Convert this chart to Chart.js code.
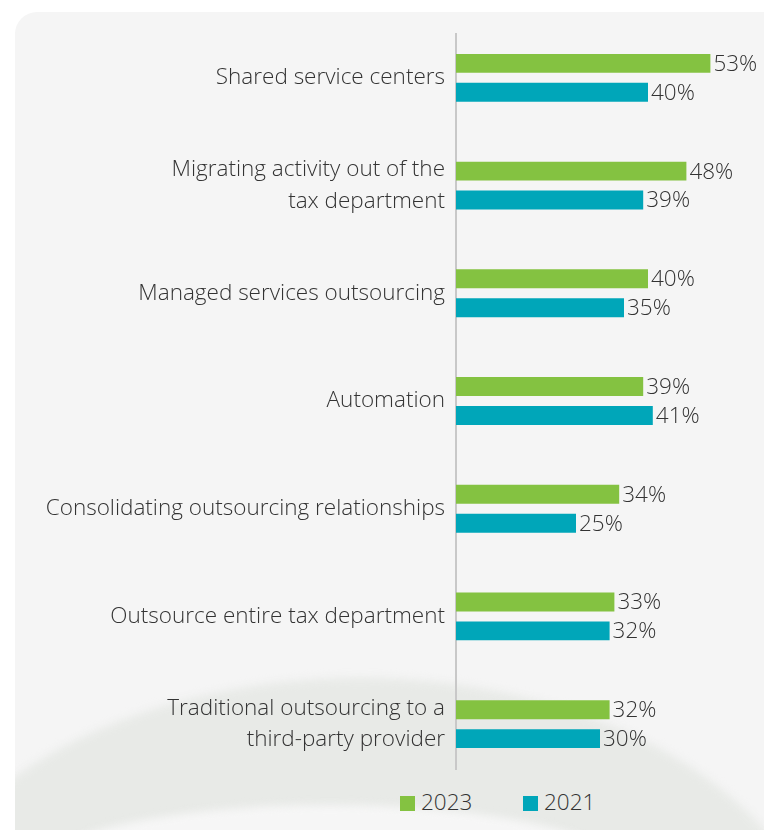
<!DOCTYPE html>
<html>
<head>
<meta charset="utf-8">
<script src="https://cdn.jsdelivr.net/npm/chart.js@4"></script>
<style>
  html, body { margin: 0; padding: 0; background: #ffffff; }
  body { width: 764px; height: 830px; position: relative; overflow: hidden; font-family: "Open Sans", sans-serif; }
  #panel { position: absolute; left: 15px; top: 12px; width: 760px; height: 840px; background: #f5f5f5; border-top-left-radius: 22px; overflow: hidden; }
  #band { position: absolute; left: -120px; top: 666px; width: 930px; height: 600px; border-radius: 50%; background: #e8eae7; filter: blur(4px); }
  #hole { position: absolute; left: 15px; top: 793px; width: 600px; height: 140px; border-radius: 50%; background: #f6f6f6; filter: blur(4px); }
  #wrap { position: absolute; left: 15px; top: 12px; width: 749px; height: 768px; }
  #legend { position: absolute; top: 786px; left: 400px; font-size: 22.5px; color: #333; font-weight: 300; white-space: nowrap; }
  #legend span.item { display: inline-block; }
  #legend i { display: inline-block; width: 15px; height: 15px; margin-right: 6px; vertical-align: -1px; }
</style>
</head>
<body>
<div id="panel"><div id="band"></div><div id="hole"></div></div>
<div id="wrap"><canvas id="chart"></canvas></div>
<div id="legend">
  <span class="item" style="width:123px"><i style="background:#84c241"></i>2023</span><span class="item"><i style="background:#00a6b9"></i>2021</span>
</div>
<script>
let categories = [
  "Shared service centers",
  ["Migrating activity out of the", "tax department"],
  "Managed services outsourcing",
  "Automation",
  "Consolidating outsourcing relationships",
  "Outsource entire tax department",
  ["Traditional outsourcing to a", "third-party provider"]
];
let values2023 = [53, 48, 40, 39, 34, 33, 32];
let values2021 = [40, 39, 35, 41, 25, 32, 30];

let green = "#84c241";
let teal = "#00a6b9";
let textColor = "#333333";

// value labels right after each bar
let valueLabels = {
  id: "valueLabels",
  afterDatasetsDraw(chart) {
    let ctx = chart.ctx;
    ctx.save();
    ctx.font = "300 22.5px 'Open Sans'";
    ctx.fillStyle = textColor;
    ctx.textBaseline = "middle";
    ctx.textAlign = "left";
    chart.data.datasets.forEach((ds, i) => {
      chart.getDatasetMeta(i).data.forEach((bar, j) => {
        ctx.fillText(ds.data[j] + "%", bar.x + 3, bar.y + 1);
      });
    });
    ctx.restore();
  }
};

// short vertical axis line
let axisLine = {
  id: "axisLine",
  beforeDatasetsDraw(chart) {
    let ctx = chart.ctx;
    let x = chart.chartArea.left;
    ctx.save();
    ctx.strokeStyle = "#c8c8c8";
    ctx.lineWidth = 2;
    ctx.beginPath();
    ctx.moveTo(x, 21);
    ctx.lineTo(x, 758);
    ctx.stroke();
    ctx.restore();
  }
};

let chartContext = document.getElementById("chart").getContext("2d");
let chart = new Chart(chartContext, {
  type: "bar",
  data: {
    labels: categories,
    datasets: [{
      label: "2023",
      data: values2023,
      backgroundColor: green,
      categoryPercentage: 0.537,
      barPercentage: 0.655
    }, {
      label: "2021",
      data: values2021,
      backgroundColor: teal,
      categoryPercentage: 0.537,
      barPercentage: 0.655
    }]
  },
  options: {
    indexAxis: "y",
    responsive: true,
    maintainAspectRatio: false,
    animation: false,
    layout: { padding: { top: 12, bottom: 2, right: 20, left: 0 } },
    plugins: {
      legend: { display: false },
      tooltip: { enabled: false }
    },
    scales: {
      x: {
        display: false,
        min: 0,
        max: 60
      },
      y: {
        grid: { display: false, drawTicks: false },
        border: { display: false },
        ticks: {
          color: textColor,
          padding: 11,
          font: { family: "'Open Sans'", size: 22.5, weight: 300, lineHeight: 1.38 }
        },
        afterFit(scale) {
          scale.width = 441;
          scale.paddingTop = 0;
          scale.paddingBottom = 0;
        }
      }
    }
  },
  plugins: [valueLabels, axisLine]
});
</script>
</body>
</html>
